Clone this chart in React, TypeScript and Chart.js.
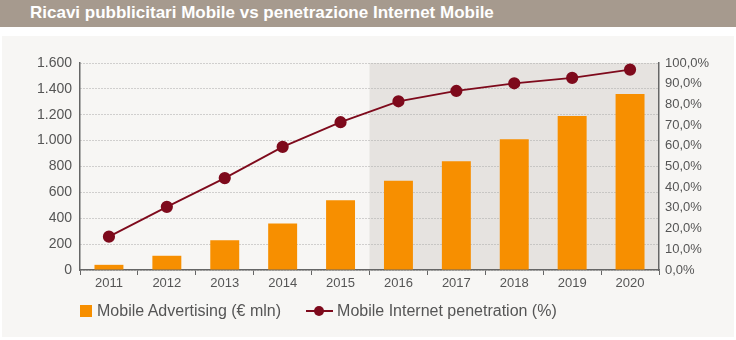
import React, { useEffect, useRef } from "react";
import { Chart, registerables } from "chart.js";

Chart.register(...registerables);

const categories = ["2011", "2012", "2013", "2014", "2015", "2016", "2017", "2018", "2019", "2020"];
const advertising = [40, 110, 230, 360, 540, 690, 840, 1010, 1190, 1360];
const penetration = [16.1, 30.5, 44.4, 59.5, 71.4, 81.5, 86.5, 90.2, 92.8, 96.8];
const forecastStart = "2016";
const title = "Ricavi pubblicitari Mobile vs penetrazione Internet Mobile";
const legendBar = "Mobile Advertising (€ mln)";
const legendLine = "Mobile Internet penetration (%)";

const ORANGE = "#f78f00";
const RED = "#7e0a1c";
const FONT = "'Liberation Sans', Arial, Helvetica, sans-serif";

const fmtThousands = (v: number) => String(Math.round(v)).replace(/\B(?=(\d{3})+(?!\d))/g, ".");

const shadePlugin = {
  id: "shade",
  beforeDraw(chart: any) {
    const { ctx, chartArea, scales } = chart;
    const x = scales.x;
    const idx = categories.indexOf(forecastStart);
    const left = (x.getPixelForValue(idx - 1) + x.getPixelForValue(idx)) / 2;
    ctx.save();
    ctx.fillStyle = "#e6e3e0";
    ctx.fillRect(left, chartArea.top, chartArea.right - left, chartArea.bottom - chartArea.top);
    ctx.restore();
  },
};

export default function App() {
  const ref = useRef<HTMLCanvasElement>(null);
  useEffect(() => {
    document.body.style.margin = "0";
    const chart = new Chart(ref.current!, {
      type: "bar",
      data: {
        labels: categories,
        datasets: [
          {
            type: "line",
            label: legendLine,
            data: penetration,
            yAxisID: "y1",
            borderColor: RED,
            backgroundColor: RED,
            borderWidth: 1.8,
            pointRadius: 5.2,
            pointBackgroundColor: RED,
            pointBorderColor: RED,
            tension: 0,
            order: 0,
          } as any,
          {
            type: "bar",
            label: legendBar,
            data: advertising,
            yAxisID: "y",
            backgroundColor: ORANGE,
            categoryPercentage: 1,
            barPercentage: 0.5,
            order: 1,
          },
        ],
      },
      options: {
        animation: false,
        responsive: false,
        devicePixelRatio: 1,
        layout: { padding: { top: 63, bottom: 0, left: 0, right: 0 } },
        plugins: { legend: { display: false }, tooltip: { enabled: false } },
        scales: {
          x: {
            offset: true,
            grid: {
              offset: true,
              drawOnChartArea: false,
              drawTicks: true,
              tickLength: 5,
              color: "#666",
            },
            border: { color: "#666", width: 1.5 },
            ticks: { color: "#555", font: { family: FONT, size: 13 }, padding: 1 },
            afterFit: (s: any) => { s.height = 70; },
          },
          y: {
            position: "left",
            min: 0,
            max: 1600,
            ticks: {
              stepSize: 200,
              color: "#555",
              font: { family: FONT, size: 14 },
              padding: 8,
              callback: (v: any) => fmtThousands(Number(v)),
            },
            grid: { color: "#a8a8a8", drawTicks: false, lineWidth: 1 },
            border: { color: "#666", width: 1.5, dash: [1, 2] } as any,
            afterFit: (s: any) => { s.width = 80; },
          },
          y1: {
            position: "right",
            min: 0,
            max: 100,
            ticks: {
              stepSize: 10,
              color: "#555",
              font: { family: FONT, size: 13 },
              padding: 6,
              callback: (v: any) => Number(v).toFixed(1).replace(".", ",") + "%",
            },
            grid: { drawOnChartArea: false, drawTicks: false },
            border: { color: "#666", width: 1.5 },
            afterFit: (s: any) => { s.width = 77; },
          },
        },
      },
      plugins: [shadePlugin],
    });
    return () => chart.destroy();
  }, []);

  return (
    <div style={{ position: "absolute", left: 0, top: 0, width: 736, height: 340, background: "#fff", overflow: "hidden", fontFamily: FONT }}>
      <div style={{ position: "absolute", left: 0, top: 0, width: 736, height: 27, background: "#a69a8e" }}>
        <div style={{ position: "absolute", left: 30, top: 0, color: "#fff", fontWeight: "bold", fontSize: 17, lineHeight: "26px", whiteSpace: "nowrap" }}>
          {title}
        </div>
      </div>
      <div style={{ position: "absolute", left: 2, top: 36, width: 732, height: 301, background: "#f7f6f4" }} />
      <canvas ref={ref} width={736} height={340} style={{ position: "absolute", left: 0, top: 0, width: 736, height: 340 }} />
      <div style={{ position: "absolute", left: 80, top: 300, height: 22, display: "flex", alignItems: "center", color: "#555", fontSize: 16, whiteSpace: "nowrap" }}>
        <span style={{ display: "inline-block", width: 12, height: 12, background: ORANGE, marginRight: 5 }} />
        <span>{legendBar}</span>
        <span style={{ display: "inline-block", position: "relative", width: 27, height: 12, marginLeft: 25, marginRight: 4 }}>
          <span style={{ position: "absolute", left: 0, top: 5, width: 27, height: 2, background: RED }} />
          <span style={{ position: "absolute", left: 8, top: 1, width: 10, height: 10, borderRadius: 5, background: RED }} />
        </span>
        <span>{legendLine}</span>
      </div>
    </div>
  );
}
